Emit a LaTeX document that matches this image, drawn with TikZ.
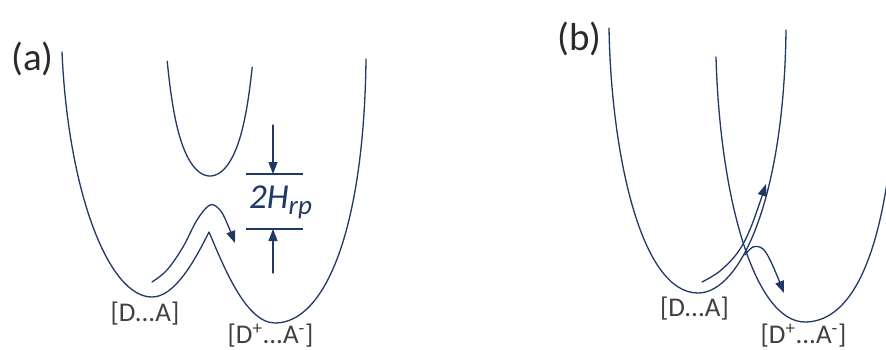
\documentclass[tikz,border=0pt]{standalone}
\usepackage{fontspec}
\setmainfont{Carlito}
\usetikzlibrary{arrows.meta}
\definecolor{navy}{HTML}{1F3864}
\definecolor{txtgray}{HTML}{404040}
\definecolor{paneltxt}{HTML}{2A2A2A}
\begin{document}
\begin{tikzpicture}[x=1pt,y=-1pt,
  curve/.style={draw=navy, line width=1.3pt, line join=round, line cap=round},
  flow/.style={draw=navy, line width=1.3pt, line cap=round, -{Triangle[length=12pt,width=9pt]}},
  lbl/.style={text=txtgray, font=\fontsize{27}{30}\selectfont, inner sep=0pt, anchor=base},
  panel/.style={text=paneltxt, font=\fontsize{39}{44}\selectfont, inner sep=0pt, anchor=base west}]
\useasboundingbox (0,0) rectangle (886,349);
\begin{scope}
\clip (0,0) rectangle (886,349);

% ---------- panel (a) ----------
\node[panel] (pa) at (11,70) {(a)};
% lower adiabatic curve: left well, cusp, right well
\draw[curve] (62,52) .. controls (68,190) and (108,297) .. (152,297)
  .. controls (175,297) and (195,260) .. (209,232)
  .. controls (222,262) and (245,323) .. (275,323)
  .. controls (325,323) and (364,230) .. (366,59);
% upper adiabatic curve
\draw[curve] plot[domain=-4.28:0, samples=40, variable=\u]
    ({210+10*\u},{176-3.3*\u*\u-0.09*\u*\u*\u*\u-14*pow(\u/4,8)})
  -- plot[domain=0:4.22, samples=40, variable=\u]
    ({210+10*\u},{176-3.3*\u*\u-0.09*\u*\u*\u*\u-14*pow(\u/4,8)});
% reaction path arrow over the barrier
\draw[flow] plot[smooth, tension=0.6] coordinates {(152,282) (167,270) (183,247) (197,220) (210,205) (220,210) (227,223) (235,243)};
% 2H_rp marker
\coordinate (ttop) at (273,125);
\coordinate (tbar) at (273,174);
\coordinate (bbot) at (273,273);
\coordinate (bbar) at (273,229);
\draw[curve, line cap=butt] (246,174) -- (303,174);
\draw[curve, line cap=butt] (246,229) -- (303,229);
\draw[flow] (ttop) -- (tbar);
\draw[flow] (bbot) -- (bbar);
\node[inner sep=0pt, anchor=base west, text=navy] (hrp) at (249,208)
  {\fontsize{35}{40}\selectfont\itshape 2H\raisebox{-6pt}{\fontsize{27}{28}\selectfont\itshape rp}};
\node[lbl] (da1) at (145,321.5) {[D...A]};
\node[lbl] (dpa1) at (270.5,343.5) {[D\textsuperscript{+}...A\textsuperscript{-}]};

% ---------- panel (b) ----------
\node[panel] (pb) at (557,50) {(b)};
% reactant parabola
\draw[curve] (609,28) .. controls (611,150) and (640,293) .. (698,293)
  .. controls (740,293) and (784,200) .. (786,30);
% product parabola
\draw[curve] (716,57) .. controls (720,200) and (755,322) .. (805,322)
  .. controls (860,322) and (893,230) .. (897,57);
% arrows
\draw[flow] plot[smooth, tension=0.6] coordinates {(702,282) (720,271) (738,252) (751,227) (766,184)};
\draw[flow] plot[smooth, tension=0.6] coordinates {(745,255) (753,247) (763,249) (772,264) (784,293)};
\node[lbl] (da2) at (694.5,316.5) {[D...A]};
\node[lbl] (dpa2) at (803.5,343.5) {[D\textsuperscript{+}...A\textsuperscript{-}]};
\end{scope}
\end{tikzpicture}
\end{document}
